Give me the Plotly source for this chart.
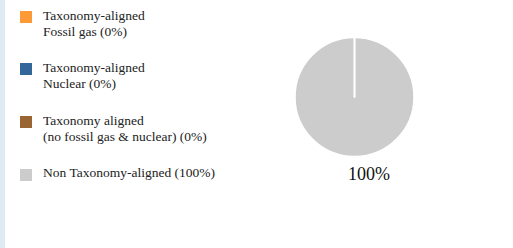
import plotly.graph_objects as go

labels = ["Taxonomy-aligned<br>Fossil gas", "Taxonomy-aligned<br>Nuclear",
          "Taxonomy aligned<br>(no fossil gas & nuclear)", "Non Taxonomy-aligned"]
values = [0, 0, 0, 100]
colors = ["#FD9A38", "#336699", "#996633", "#CCCCCC"]
center_label = "100%"

W, H = 513, 248
FONT = "Liberation Serif"

fig = go.Figure()
fig.add_trace(go.Pie(
    labels=labels, values=values,
    marker=dict(colors=colors, line=dict(color="white", width=1.5)),
    textinfo="none", sort=True, showlegend=False, hoverinfo="label+percent",
    domain=dict(x=[295 / W, 414 / W], y=[(H - 156.5) / H, (H - 37.5) / H]),
))

shapes = [dict(type="rect", xref="paper", yref="paper", x0=0, x1=5 / W, y0=0, y1=1,
               fillcolor="#DEEBF5", line=dict(width=0), layer="below")]
annotations = []
sq_top = [11, 63, 116, 169]
for i, (lab, val, col) in enumerate(zip(labels, values, colors)):
    t = sq_top[i]
    shapes.append(dict(type="rect", xref="paper", yref="paper",
                       x0=20 / W, x1=32 / W, y0=(H - t - 12) / H, y1=(H - t) / H,
                       fillcolor=col, line=dict(width=0)))
    lines = f"{lab} ({val}%)".split("<br>")
    if len(lines) == 1:
        centers = [t + 3.7]
    else:
        centers = [t + 5.3, t + 21.0]
    for ln, c in zip(lines, centers):
        annotations.append(dict(text=ln, xref="paper", yref="paper",
                                x=41 / W, y=(H - c + 0.5) / H, xanchor="left", yanchor="middle",
                                align="left", showarrow=False,
                                font=dict(family=FONT, size=13.5, color="#222222")))

annotations.append(dict(text=center_label, xref="paper", yref="paper",
                        x=369 / W, y=(H - 174.3 + 0.5) / H, xanchor="center", yanchor="middle",
                        showarrow=False, font=dict(family=FONT, size=18, color="#111111")))

fig.update_layout(width=W, height=H, margin=dict(l=0, r=0, t=0, b=0),
                  paper_bgcolor="white", plot_bgcolor="white",
                  shapes=shapes, annotations=annotations)
fig.write_html("out.html", config=dict(displayModeBar=False),
               post_script="document.body.style.margin='0';")
